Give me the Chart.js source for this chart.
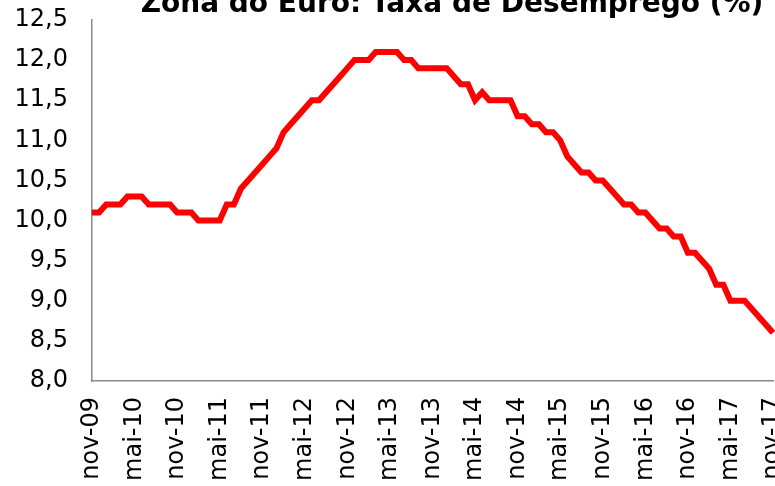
<!DOCTYPE html>
<html>
<head>
<meta charset="utf-8">
<script src="https://cdn.jsdelivr.net/npm/chart.js@4"></script>
<style>
    html, body { margin: 0; padding: 0; background: #fff; }
    #wrap { width: 775px; height: 486px; position: relative; }
</style>
</head>
<body>
<div id="wrap"><canvas id="chart"></canvas></div>
<script>
const chartTitle = 'Zona do Euro: Taxa de Desemprego (%)';

// month names (pt) for category labels, nov-09 .. nov-17
const monthNames = ['jan', 'fev', 'mar', 'abr', 'mai', 'jun', 'jul', 'ago', 'set', 'out', 'nov', 'dez'];
const months = [];
for (let i = 0; i < 97; i++) {
    const m = (10 + i) % 12;
    const y = 9 + Math.floor((10 + i) / 12);
    months.push(monthNames[m] + '-' + String(y).padStart(2, '0'));
}

// unemployment rate (%), monthly
const unemployment = [
    10.1, 10.1, 10.2, 10.2, 10.2, 10.3, 10.3, 10.3, 10.2, 10.2, 10.2, 10.2,
    10.1, 10.1, 10.1, 10.0, 10.0, 10.0, 10.0, 10.2, 10.2, 10.4, 10.5, 10.6,
    10.7, 10.8, 10.9, 11.1, 11.2, 11.3, 11.4, 11.5, 11.5, 11.6, 11.7, 11.8,
    11.9, 12.0, 12.0, 12.0, 12.1, 12.1, 12.1, 12.1, 12.0, 12.0, 11.9, 11.9,
    11.9, 11.9, 11.9, 11.8, 11.7, 11.7, 11.5, 11.6, 11.5, 11.5, 11.5, 11.5,
    11.3, 11.3, 11.2, 11.2, 11.1, 11.1, 11.0, 10.8, 10.7, 10.6, 10.6, 10.5,
    10.5, 10.4, 10.3, 10.2, 10.2, 10.1, 10.1, 10.0, 9.9, 9.9, 9.8, 9.8,
    9.6, 9.6, 9.5, 9.4, 9.2, 9.2, 9.0, 9.0, 9.0, 8.9, 8.8, 8.7,
    8.6
];

const yMin = 8.0;
const yMax = 12.5;
const yStep = 0.5;
const labelEvery = 6;

const titlePlugin = {
    id: 'topTitle',
    afterDraw(chart) {
        const ctx = chart.ctx;
        ctx.save();
        ctx.font = 'bold 28px "DejaVu Sans"';
        ctx.fillStyle = '#000';
        ctx.textAlign = 'center';
        ctx.textBaseline = 'alphabetic';
        ctx.fillText(chartTitle, 452, 12);
        ctx.restore();
    }
};

const tickFont = { family: 'DejaVu Sans', size: 24 };

new Chart(document.getElementById('chart'), {
    type: 'line',
    data: {
        labels: months,
        datasets: [{
            data: unemployment,
            borderColor: '#FF0000',
            borderWidth: 6,
            pointRadius: 0,
            tension: 0,
            fill: false
        }]
    },
    options: {
        responsive: true,
        maintainAspectRatio: false,
        animation: false,
        devicePixelRatio: 1,
        layout: { padding: { top: 20, right: 2, left: 0, bottom: 0 } },
        plugins: {
            legend: { display: false },
            tooltip: { enabled: false },
            title: { display: false }
        },
        scales: {
            x: {
                offset: false,
                grid: { display: false, drawTicks: false },
                border: { display: true, color: '#888888', width: 1.5 },
                ticks: {
                    autoSkip: false,
                    maxRotation: 90,
                    minRotation: 90,
                    padding: 16,
                    color: '#000',
                    font: tickFont,
                    callback: function (value, index) {
                        return index % labelEvery === 0 ? months[index] : null;
                    }
                },
                afterFit(scale) {
                    scale.height = 105;
                    scale.paddingLeft = 0;
                    scale.paddingRight = 0;
                }
            },
            y: {
                min: yMin,
                max: yMax,
                grid: { display: false, drawTicks: false },
                border: { display: true, color: '#888888', width: 1.5 },
                ticks: {
                    stepSize: yStep,
                    padding: 24,
                    color: '#000',
                    font: tickFont,
                    callback: v => v.toFixed(1).replace('.', ',')
                },
                afterFit(scale) {
                    scale.width = 92;
                    scale.paddingTop = 0;
                    scale.paddingBottom = 0;
                }
            }
        }
    },
    plugins: [titlePlugin]
});
</script>
</body>
</html>
